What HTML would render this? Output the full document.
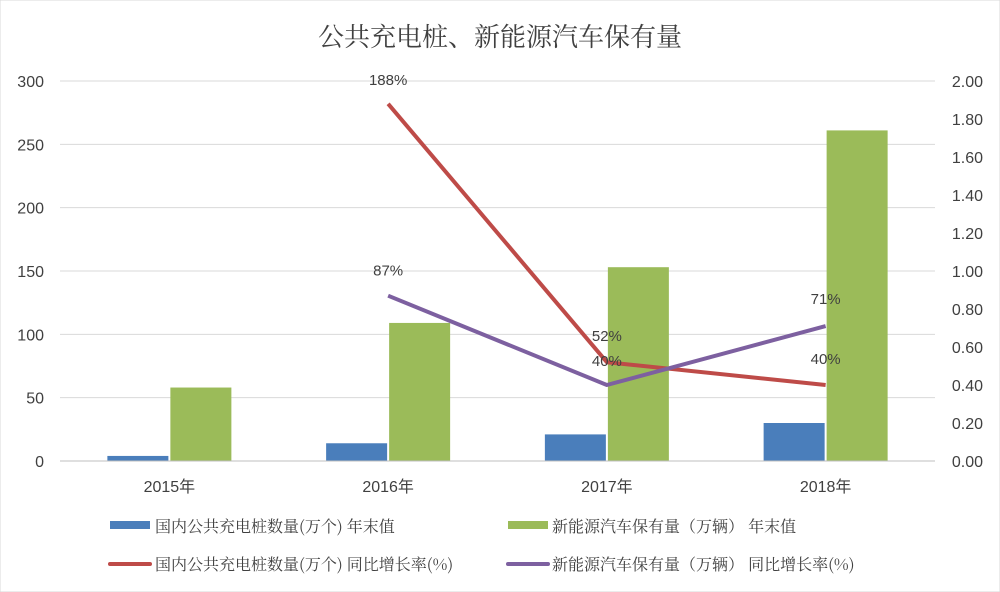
<!DOCTYPE html>
<html><head><meta charset="utf-8"><style>
body{margin:0;background:#fff;}
svg{display:block;font-family:"Liberation Sans","Noto Sans CJK SC",sans-serif;}
</style></head><body>
<svg id="chart" width="1000" height="592" viewBox="0 0 1000 592">
<rect x="0" y="0" width="1000" height="592" fill="#fff" stroke="#d9d9d9"/>
<text x="500" y="46" text-anchor="middle" font-size="26" fill="#404040" font-family="'Noto Serif CJK SC','Noto Sans CJK SC',serif">公共充电桩、新能源汽车保有量</text>
<g id="grid"></g><g id="bars"></g><g id="lines"></g><g id="axes"></g>
<g font-size="16" fill="#404040" font-family="'Noto Serif CJK SC','Noto Sans CJK SC',serif">
<rect x="110" y="521" width="40" height="8" fill="#4a7ebb"/>
<text x="155" y="532">国内公共充电桩数量(万个) 年末值</text>
<rect x="508" y="521" width="40" height="8" fill="#9bbb59"/>
<text x="552" y="532">新能源汽车保有量（万辆） 年末值</text>
<line x1="110" y1="564" x2="150" y2="564" stroke="#be4b48" stroke-width="4" stroke-linecap="round"/>
<text x="155" y="570">国内公共充电桩数量(万个) 同比增长率(%)</text>
<line x1="508" y1="564" x2="548" y2="564" stroke="#7d60a0" stroke-width="4" stroke-linecap="round"/>
<text x="552" y="570">新能源汽车保有量（万辆） 同比增长率(%)</text>
</g>
</svg>
<script>
const categories=["2015年","2016年","2017年","2018年"];
const pilesValues=[4,14,21,30];
const nevValues=[58,109,153,261];
const pilesGrowth=[null,1.88,0.52,0.40];
const nevGrowth=[null,0.87,0.40,0.71];
const pilesGrowthLabels=["","188%","52%","40%"];
const nevGrowthLabels=["","87%","40%","71%"];
const leftTicks=[0,50,100,150,200,250,300];
const rightTicks=[0,0.2,0.4,0.6,0.8,1.0,1.2,1.4,1.6,1.8,2.0];
const NS="http://www.w3.org/2000/svg";
const X0=60,X1=935,Y0=461,Y1=81;
const band=(X1-X0)/categories.length;
const xc=i=>X0+band*(i+0.5);
const yL=v=>Y0-(v/300)*(Y0-Y1);
const yR=v=>Y0-(v/2)*(Y0-Y1);
function mk(tag,attrs,parent,text){const e=document.createElementNS(NS,tag);for(const k in attrs)e.setAttribute(k,attrs[k]);if(text!==undefined)e.textContent=text;parent.appendChild(e);return e;}
const grid=document.getElementById('grid'),bars=document.getElementById('bars'),lines=document.getElementById('lines'),axes=document.getElementById('axes');
leftTicks.forEach(t=>{
 const y=yL(t);
 if(t>0){const g=mk('line',{x1:X0,x2:X1,y1:y,y2:y,stroke:'#d9d9d9','stroke-width':1},grid);
 
 }
 const tx=mk('text',{x:44,y:y+6,'text-anchor':'end','font-size':16,fill:'#404040'},axes,String(t));
 
 
});
rightTicks.forEach(t=>{
 const tx=mk('text',{x:983,y:yR(t)+6,'text-anchor':'end','font-size':16,fill:'#404040'},axes,t.toFixed(2));
 
 
});
const ax=mk('line',{x1:X0,x2:X1,y1:Y0,y2:Y0,stroke:'#bfbfbf','stroke-width':1},axes);


const bw=61;
categories.forEach((c,i)=>{
 const cx=xc(i);
 const b1=mk('rect',{x:cx-bw-1,y:yL(pilesValues[i]),width:bw,height:Y0-yL(pilesValues[i]),fill:'#4a7ebb'},bars);
 
 
 const b2=mk('rect',{x:cx+1,y:yL(nevValues[i]),width:bw,height:Y0-yL(nevValues[i]),fill:'#9bbb59'},bars);
 
 
 const tl=mk('text',{x:cx,y:492,'text-anchor':'middle','font-size':16,fill:'#404040'},axes,c);
 
 
});
function series(vals,labels,color,name,dy){
 const pts=[];vals.forEach((v,i)=>{if(v!==null)pts.push([xc(i),yR(v),labels[i]]);});
 const p=mk('polyline',{points:pts.map(p=>p[0]+','+p[1]).join(' '),fill:'none',stroke:color,'stroke-width':4,'stroke-linejoin':'round'},lines);
 
 
 pts.forEach((q,k)=>{
  const t=mk('text',{x:q[0],y:q[1]+dy[k],'text-anchor':'middle','font-size':15,fill:'#404040'},lines,q[2]);
  
  
 });
}
series(pilesGrowth,pilesGrowthLabels,'#be4b48','piles-growth',[-19,-21,-21]);
series(nevGrowth,nevGrowthLabels,'#7d60a0','nev-growth',[-20,-19,-22]);
</script>
</body></html>
